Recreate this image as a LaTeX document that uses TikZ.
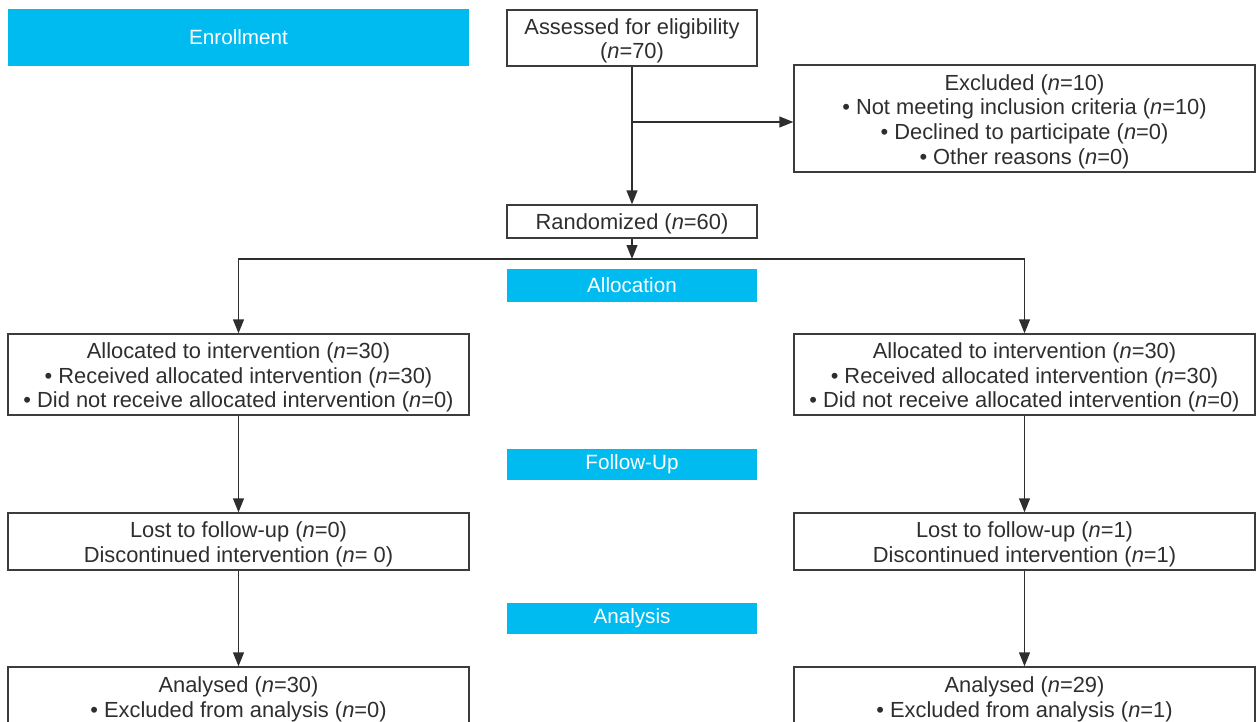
\documentclass[tikz,border=0pt]{standalone}
\usepackage{fontspec}
\setmainfont{Liberation Sans}
\usetikzlibrary{arrows.meta}
\definecolor{cyanbar}{HTML}{00BBF0}
\definecolor{txt}{HTML}{2E2E2E}
\definecolor{frame}{HTML}{3C3C3C}
\begin{document}
\begin{tikzpicture}[x=0.75pt,y=-0.75pt,
  box/.style={draw=frame,line width=1pt,inner sep=0pt},
  boxtext/.style={text=txt,align=center,inner sep=0pt,
    font=\fontsize{16.4}{18.4}\selectfont},
  bar/.style={fill=cyanbar,draw=none,text=white,inner sep=0pt,
    font=\fontsize{15.5}{18.4}\selectfont},
  arr/.style={draw=txt,line width=1pt,-{Triangle[length=10.5pt,width=8.2pt]}}]
\path[use as bounding box] (0,0) rectangle (1256,721);
\clip (0,0) rectangle (1256,721);
% phase bars
\node[bar,minimum width=345.75pt,minimum height=42.75pt] (enr) at (238.5,37.5) {Enrollment};
\node[bar,minimum width=187.5pt,minimum height=24.75pt] (alloc) at (632,285.5) {Allocation};
\node[bar,minimum width=187.5pt,minimum height=23.25pt] (fu) at (632,464.5) {Follow-Up};
\node[bar,minimum width=187.5pt,minimum height=23.25pt] (ana) at (632,618.5) {Analysis};
% box frames
\node[box,minimum width=187.5pt,minimum height=42pt] (ass) at (632,38) {};
\node[box,minimum width=345.75pt,minimum height=80.25pt] (exc) at (1024.5,118.5) {};
\node[box,minimum width=187.5pt,minimum height=24.75pt] (rand) at (632,221.5) {};
\node[box,minimum width=345.75pt,minimum height=60.75pt] (al) at (238.5,374.5) {};
\node[box,minimum width=345.75pt,minimum height=60.75pt] (ar) at (1024.5,374.5) {};
\node[box,minimum width=345.75pt,minimum height=42.75pt] (ll) at (238.5,541.5) {};
\node[box,minimum width=345.75pt,minimum height=42.75pt] (lr) at (1024.5,541.5) {};
\node[box,minimum width=345.75pt,minimum height=44.25pt] (anl) at (238.5,696.5) {};
\node[box,minimum width=345.75pt,minimum height=44.25pt] (anr) at (1024.5,696.5) {};
% box texts
\node[boxtext] (assT) at ([yshift=-2.3pt]ass.center)
  {Assessed for eligibility\\(\textit{n}=70)};
\node[boxtext] (excT) at ([yshift=-2.3pt]exc.center)
  {Excluded (\textit{n}=10)\\
   • Not meeting inclusion criteria (\textit{n}=10)\\
   • Declined to participate (\textit{n}=0)\\
   • Other reasons (\textit{n}=0)};
\node[boxtext] (randT) at ([yshift=-1.5pt]rand.center)
  {Randomized (\textit{n}=60)};
\node[boxtext] (alT) at ([yshift=-2.3pt]al.center)
  {Allocated to intervention (\textit{n}=30)\\
   • Received allocated intervention (\textit{n}=30)\\
   • Did not receive allocated intervention (\textit{n}=0)};
\node[boxtext] (arT) at ([yshift=-2.3pt]ar.center)
  {Allocated to intervention (\textit{n}=30)\\
   • Received allocated intervention (\textit{n}=30)\\
   • Did not receive allocated intervention (\textit{n}=0)};
\node[boxtext] (llT) at ([yshift=-2.3pt]ll.center)
  {Lost to follow-up (\textit{n}=0)\\Discontinued intervention (\textit{n}= 0)};
\node[boxtext] (lrT) at ([yshift=-2.3pt]lr.center)
  {Lost to follow-up (\textit{n}=1)\\Discontinued intervention (\textit{n}=1)};
\node[boxtext] (anlT) at ([yshift=-2.3pt]anl.center)
  {Analysed (\textit{n}=30)\\• Excluded from analysis (\textit{n}=0)};
\node[boxtext] (anrT) at ([yshift=-2.3pt]anr.center)
  {Analysed (\textit{n}=29)\\• Excluded from analysis (\textit{n}=1)};
% connectors
\coordinate (br) at (632,122);
\coordinate (sp) at (632,259);
\draw[arr] (ass) -- (rand);
\draw[arr] (br) -- (br -| exc.west);
\draw[arr] (rand) -- (sp);
\draw[arr] (sp) -| (al.north);
\draw[arr] (sp) -| (ar.north);
\draw[arr] (al) -- (ll);
\draw[arr] (ar) -- (lr);
\draw[arr] (ll) -- (anl);
\draw[arr] (lr) -- (anr);
\end{tikzpicture}
\end{document}
